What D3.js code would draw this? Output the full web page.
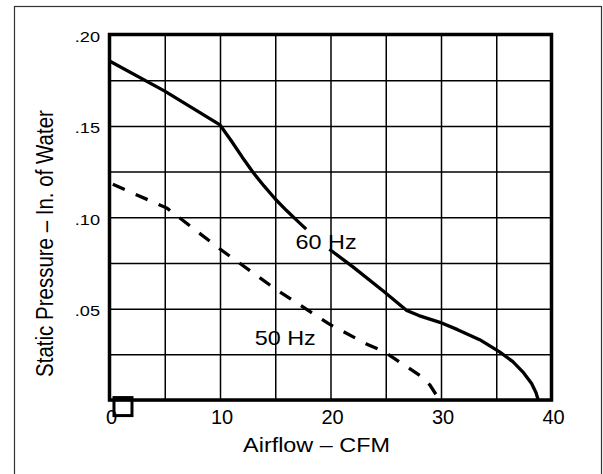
<!DOCTYPE html>
<html>
<head>
<meta charset="utf-8">
<script src="https://cdn.jsdelivr.net/npm/d3@7"></script>
<style>
  html, body { margin: 0; padding: 0; background: #fff; }
  text { font-family: "Liberation Sans", Arial, Helvetica, sans-serif; fill: #000; }
</style>
</head>
<body>
<div id="chart"></div>
<script>
// Axis values
const xTickValues = [0, 10, 20, 30, 40];
const yTickValues = [0.05, 0.10, 0.15, 0.20];
const xGridValues = [0, 5, 10, 15, 20, 25, 30, 35, 40];
const yGridValues = [0, 0.025, 0.05, 0.075, 0.10, 0.125, 0.15, 0.175, 0.20];

// 60 Hz curve (null = gap behind the label)
const flow60 = [0, 5, 10, 11, 12, 13, 14, 15, 16, 17, 17.8, 18.8, 19.9, 22, 24.8, 26.9, 28, 29.9, 31.5, 33.5, 35.3, 36.5, 37.4, 38.2, 38.6, 38.8];
const pres60 = [0.1855, 0.1690, 0.1505, 0.1420, 0.1330, 0.1245, 0.1170, 0.1100, 0.1038, 0.0980, 0.0935, null, 0.0825, 0.0730, 0.0595, 0.0490, 0.0462, 0.0425, 0.0385, 0.0330, 0.0263, 0.0210, 0.0154, 0.0090, 0.0040, 0];

// 50 Hz curve
const flow50 = [0.3, 5.2, 10, 15, 19.9, 23.3, 24.9, 28.3, 29.0, 29.55, 29.75];
const pres50 = [0.1180, 0.1050, 0.0826, 0.0608, 0.0415, 0.0305, 0.0263, 0.0125, 0.0082, 0.0030, 0];

const curveLabels = [
  { text: "60 Hz", x: 19.6, y: 0.0865 },
  { text: "50 Hz", x: 15.9, y: 0.0342 }
];

const markerPoints = [{ x: 1.22, y: -0.0036 }];

const W = 603, H = 474;
const margin = { top: 34.5, right: 51.5, bottom: 74, left: 109.5 };
const width = W - margin.left - margin.right;
const height = H - margin.top - margin.bottom;
const stretch = 1.17;

const svg = d3.select("#chart").append("svg")
    .attr("width", W)
    .attr("height", H);

// outer frame
svg.append("rect")
    .attr("x", 14.5).attr("y", 6.5)
    .attr("width", 587).attr("height", 490)
    .attr("fill", "none")
    .attr("stroke", "#333")
    .attr("stroke-width", 1.2);

const g = svg.append("g")
    .attr("transform", `translate(${margin.left},${margin.top})`);

const x = d3.scaleLinear().domain([0, 40]).range([0, width]);
const y = d3.scaleLinear().domain([0, 0.20]).range([height, 0]);

// grid
g.append("g")
    .attr("class", "grid")
    .call(d3.axisBottom(x).tickValues(xGridValues).tickSize(height).tickFormat(""))
    .call(s => s.select(".domain").remove())
    .selectAll("line").attr("stroke", "#000").attr("stroke-width", 1.5);

g.append("g")
    .attr("class", "grid")
    .call(d3.axisLeft(y).tickValues(yGridValues).tickSize(-width).tickFormat(""))
    .call(s => s.select(".domain").remove())
    .selectAll("line").attr("stroke", "#000").attr("stroke-width", 1.5);

// tick labels
g.append("g")
    .attr("transform", `translate(0,${height})`)
    .call(d3.axisBottom(x).tickValues(xTickValues).tickSize(0).tickFormat(d3.format("d")))
    .call(s => s.select(".domain").remove())
    .selectAll("text")
    .attr("y", 0).attr("dy", 0)
    .attr("transform", "translate(1.5,24)")
    .style("font-size", "20px")
    .attr("fill", "#000");

g.append("g")
    .call(d3.axisLeft(y).tickValues(yTickValues).tickSize(0)
        .tickFormat(d => d3.format(".2f")(d).replace(/^0/, "")))
    .call(s => s.select(".domain").remove())
    .selectAll("text")
    .attr("x", 0).attr("dy", "0.45em")
    .attr("transform", `translate(-9.5,0) scale(${stretch},1)`)
    .style("font-size", "15.5px")
    .attr("fill", "#000");

// curves
const line = d3.line()
    .defined(d => d[1] != null)
    .x(d => x(d[0]))
    .y(d => y(d[1]));

g.append("path")
    .datum(flow60.map((f, i) => [f, pres60[i]]))
    .attr("fill", "none")
    .attr("stroke", "#000")
    .attr("stroke-width", 3.3)
    .attr("stroke-linejoin", "round")
    .attr("d", line);

g.append("path")
    .datum(flow50.map((f, i) => [f, pres50[i]]))
    .attr("fill", "none")
    .attr("stroke", "#000")
    .attr("stroke-width", 3.3)
    .attr("stroke-dasharray", "13,12")
    .attr("d", line);

// curve labels
g.selectAll(".curve-label")
    .data(curveLabels)
    .enter().append("text")
    .attr("class", "curve-label")
    .attr("text-anchor", "middle")
    .attr("dy", "0.36em")
    .attr("transform", d => `translate(${x(d.x)},${y(d.y)}) scale(${stretch},1)`)
    .style("font-size", "20px")
    .text(d => d.text);

// plot frame
g.append("rect")
    .attr("width", width)
    .attr("height", height)
    .attr("fill", "none")
    .attr("stroke", "#000")
    .attr("stroke-width", 3.5);

// small square marker
g.selectAll(".marker")
    .data(markerPoints)
    .enter().append("rect")
    .attr("class", "marker")
    .attr("x", d => x(d.x) - 9)
    .attr("y", d => y(d.y) - 9)
    .attr("width", 18)
    .attr("height", 18)
    .attr("fill", "none")
    .attr("stroke", "#000")
    .attr("stroke-width", 3);

// axis titles
svg.append("text")
    .attr("text-anchor", "middle")
    .attr("transform", `translate(316.5,452) scale(${stretch},1)`)
    .style("font-size", "20px")
    .text("Airflow – CFM");

svg.append("text")
    .attr("text-anchor", "middle")
    .attr("transform", `translate(53,243.5) scale(${stretch},1) rotate(-90)`)
    .style("font-size", "20.5px")
    .text("Static Pressure – In. of Water");
</script>
</body>
</html>
